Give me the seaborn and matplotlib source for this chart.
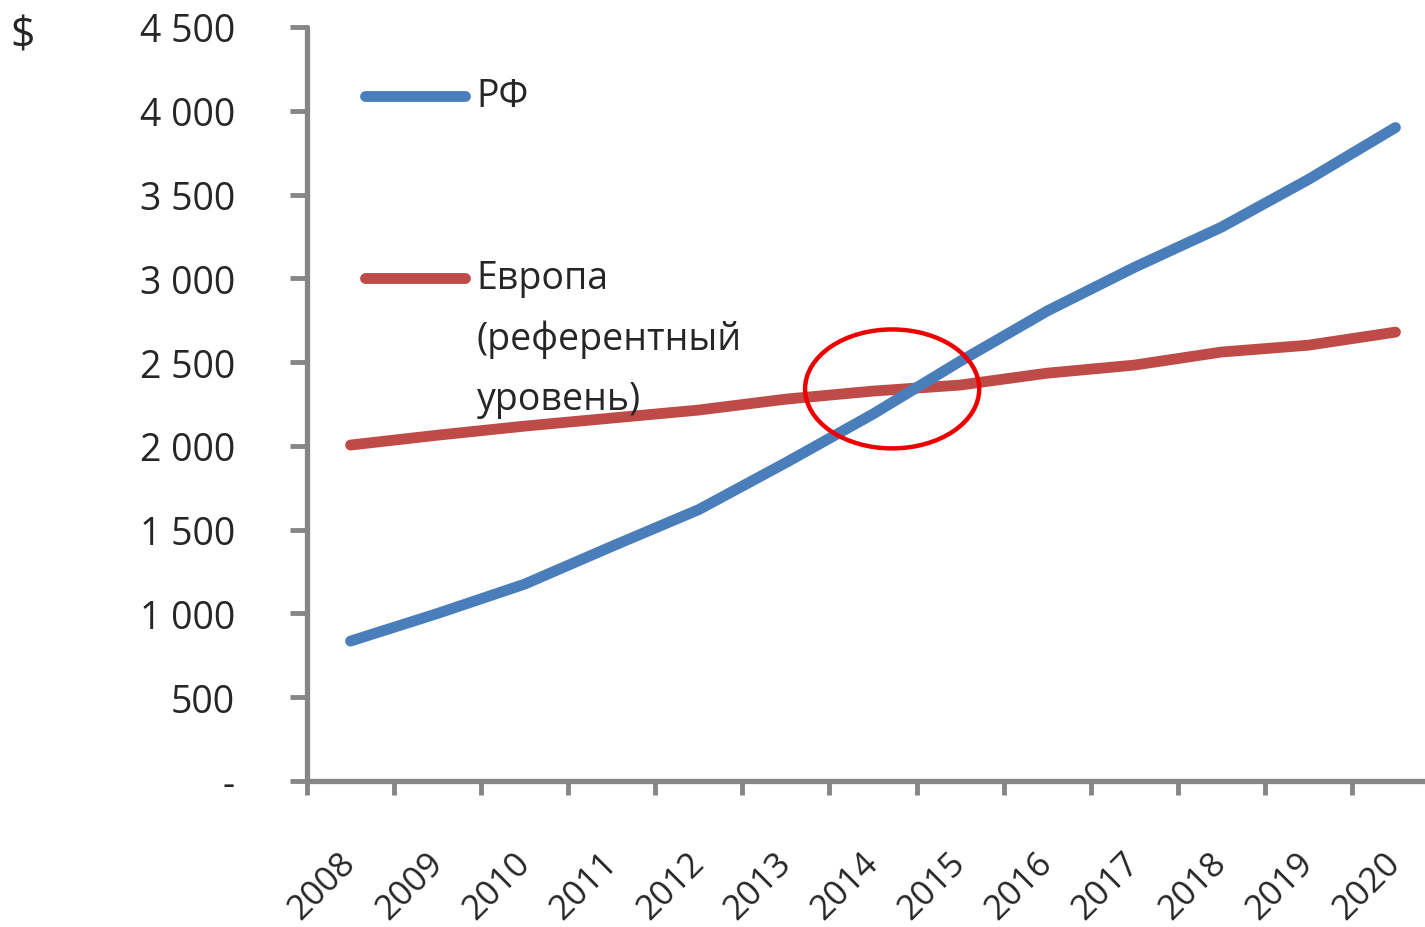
import matplotlib
matplotlib.use("Agg")
import matplotlib.pyplot as plt
import numpy as np
import pandas as pd
import seaborn as sns
from matplotlib.patches import Ellipse
from matplotlib.ticker import FuncFormatter

# data
years = ["2008", "2009", "2010", "2011", "2012", "2013", "2014",
         "2015", "2016", "2017", "2018", "2019", "2020"]
rf = [835, 1000, 1175, 1400, 1620, 1900, 2190, 2505, 2805, 3065, 3305, 3590, 3900]
europe = [2005, 2064, 2118, 2166, 2214, 2279, 2327, 2363, 2434, 2482, 2560, 2601, 2679]
y_ticks = [0, 500, 1000, 1500, 2000, 2500, 3000, 3500, 4000, 4500]
label_rf = "РФ"
label_eu = "Европа\n(референтный\nуровень)"

sns.set_theme(style="white")
plt.rcParams['font.family'] = ['Open Sans', 'DejaVu Sans']

df = pd.DataFrame({"year": years, label_rf: rf, label_eu: europe})
long = df.melt(id_vars="year", var_name="series", value_name="value")
long["x"] = long["year"].map({y: i for i, y in enumerate(years)})

fig = plt.figure(figsize=(14.25, 9.28), dpi=100)
ax = fig.add_axes([307 / 1425, 146 / 928, 1132 / 1425, 754 / 928])

blue = "#4A7EBB"
red = "#BE4B48"
grey = "#868686"

sns.lineplot(data=long, x="x", y="value", hue="series",
             palette={label_rf: blue, label_eu: red},
             hue_order=[label_eu, label_rf],
             linewidth=7.8, ax=ax, legend=False)
for ln in ax.lines:
    ln.set_solid_capstyle("round")

ax.set_xlim(-0.5, 12.5)
ax.set_ylim(0, 4500)

# inline legend
ax.plot([0.17, 1.32], [4090, 4090], color=blue, lw=7.8, solid_capstyle="round",
        clip_on=False)
ax.plot([0.17, 1.32], [3000, 3000], color=red, lw=7.8, solid_capstyle="round",
        clip_on=False)
ax.text(1.45, 4090, label_rf, fontsize=27, va="center", ha="left")
ax.text(1.45, 3000, "Европа", fontsize=27, va="center", ha="left")
ax.text(1.45, 2637, "(референтный", fontsize=27, va="center", ha="left")
ax.text(1.45, 2279, "уровень)", fontsize=27, va="center", ha="left")

# highlight crossing
ax.add_patch(Ellipse((6.22, 2340), 2.0, 710, fill=False,
                     edgecolor="#EE0000", lw=3.2, zorder=5))

ax.set_yticks(y_ticks)
ax.yaxis.set_major_formatter(FuncFormatter(
    lambda v, p: "-" if v == 0 else f"{int(v):,}".replace(",", " ")))
ax.set_xticks(range(len(years)))
ax.set_xticklabels(years, rotation=45, ha="right", va="center",
                   rotation_mode="anchor")
ax.set_xticks(np.arange(-0.5, 12.6, 1), minor=True)
ax.tick_params(axis="x", which="major", length=0, pad=55, labelsize=25)
ax.tick_params(axis="x", which="minor", length=10, width=3.5, color=grey,
               direction="out", bottom=True)
ax.tick_params(axis="y", length=12, width=3.5, color=grey, direction="out",
               left=True, pad=40, labelsize=27)
ax.set_xlabel("")
ax.set_ylabel("")

for side in ["top", "right"]:
    ax.spines[side].set_visible(False)
for side in ["left", "bottom"]:
    ax.spines[side].set_color(grey)
    ax.spines[side].set_linewidth(3.8)
    ax.spines[side].set_capstyle("round")

fig.text(10 / 1425, 1 - 37 / 928, "$", fontsize=31, va="center", ha="left")

fig.savefig("out.png", dpi=100, facecolor="white")
